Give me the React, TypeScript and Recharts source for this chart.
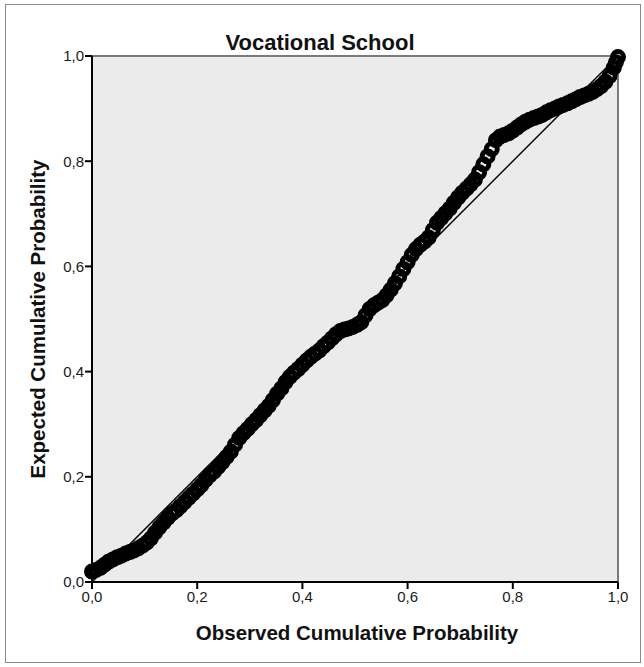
import { ScatterChart, Scatter, XAxis, YAxis, ReferenceArea, ReferenceLine } from "recharts";

const observed = [
  0.0, 0.008, 0.016, 0.024, 0.032, 0.04, 0.048, 0.056, 0.064, 0.072, 0.08, 0.088, 0.096, 0.104, 0.112, 0.12,
  0.128, 0.136, 0.144, 0.152, 0.16, 0.168, 0.176, 0.184, 0.192, 0.2, 0.208, 0.216, 0.224, 0.232, 0.24, 0.248,
  0.256, 0.264, 0.272, 0.28, 0.288, 0.296, 0.304, 0.312, 0.32, 0.328, 0.336, 0.344, 0.352, 0.36, 0.368, 0.376,
  0.384, 0.392, 0.4, 0.408, 0.416, 0.424, 0.432, 0.44, 0.448, 0.456, 0.464, 0.472, 0.48, 0.488, 0.496, 0.504,
  0.512, 0.52, 0.528, 0.536, 0.544, 0.552, 0.56, 0.568, 0.576, 0.584, 0.592, 0.6, 0.608, 0.616, 0.624, 0.632,
  0.64, 0.648, 0.656, 0.664, 0.672, 0.68, 0.688, 0.696, 0.704, 0.712, 0.72, 0.728, 0.736, 0.744, 0.752, 0.76,
  0.768, 0.776, 0.784, 0.792, 0.8, 0.808, 0.816, 0.824, 0.832, 0.84, 0.848, 0.856, 0.864, 0.872, 0.88, 0.888,
  0.896, 0.904, 0.912, 0.92, 0.928, 0.936, 0.944, 0.952, 0.96, 0.968, 0.976, 0.984, 0.992, 0.996, 1.0,
];
const expected = [
  0.02, 0.023, 0.027, 0.033, 0.039, 0.043, 0.047, 0.05, 0.054, 0.057, 0.06, 0.064, 0.069, 0.075, 0.083, 0.094,
  0.104, 0.113, 0.122, 0.13, 0.136, 0.144, 0.152, 0.16, 0.168, 0.176, 0.184, 0.194, 0.203, 0.21, 0.219, 0.228,
  0.238, 0.248, 0.261, 0.274, 0.283, 0.291, 0.3, 0.308, 0.317, 0.326, 0.335, 0.346, 0.358, 0.368, 0.38, 0.39,
  0.398, 0.405, 0.413, 0.421, 0.428, 0.434, 0.44, 0.448, 0.455, 0.463, 0.471, 0.477, 0.48, 0.482, 0.485, 0.489,
  0.494, 0.507, 0.519, 0.526, 0.531, 0.536, 0.545, 0.556, 0.568, 0.581, 0.595, 0.608, 0.622, 0.633, 0.641, 0.647,
  0.655, 0.669, 0.683, 0.692, 0.701, 0.71, 0.721, 0.731, 0.74, 0.748, 0.756, 0.765, 0.779, 0.794, 0.809, 0.823,
  0.84, 0.847, 0.85, 0.853, 0.858, 0.864, 0.87, 0.875, 0.879, 0.882, 0.885, 0.888, 0.893, 0.897, 0.9, 0.904,
  0.907, 0.91, 0.914, 0.918, 0.922, 0.925, 0.928, 0.932, 0.937, 0.943, 0.951, 0.962, 0.978, 0.988, 0.998,
];
const ticks = [0, 0.2, 0.4, 0.6, 0.8, 1];

const points = observed.map((x, i) => ({ x, y: expected[i] }));
const fmt = (v: number) => v.toFixed(1).replace(".", ",");
const font = "Arial, 'Liberation Sans', sans-serif";

const Ring = (p: any) => (
  <circle cx={p.cx} cy={p.cy} r={5.5} fill="none" stroke="#000" strokeWidth={5} />
);

export default function App() {
  return (
    <div style={{ position: "absolute", left: 0, top: 0, width: 644, height: 667, background: "#fff", fontFamily: font }}>
      <div style={{ position: "absolute", left: 5, top: 4, width: 634, height: 657, border: "1.5px solid #8a8a8a" }} />
      <ScatterChart width={644} height={667} margin={{ top: 56, right: 26, bottom: 40, left: 42 }}>
        <XAxis
          type="number"
          dataKey="x"
          domain={[0, 1]}
          ticks={ticks}
          tickFormatter={fmt}
          height={45}
          axisLine={{ stroke: "#000", strokeWidth: 2 }}
          tickLine={{ stroke: "#000", strokeWidth: 2 }}
          tickSize={7}
          tick={{ fontSize: 15, fill: "#1a1a1a", fontFamily: font }}
        />
        <YAxis
          type="number"
          dataKey="y"
          domain={[0, 1]}
          ticks={ticks}
          tickFormatter={fmt}
          width={50}
          axisLine={{ stroke: "#000", strokeWidth: 2 }}
          tickLine={{ stroke: "#000", strokeWidth: 2 }}
          tickSize={7}
          tickMargin={1}
          tick={{ fontSize: 15, fill: "#1a1a1a", fontFamily: font }}
        />
        <ReferenceArea x1={0} x2={1} y1={0} y2={1} fill="#ebebeb" fillOpacity={1} stroke="none" />
        <ReferenceLine y={1} stroke="#7a7a7a" strokeWidth={2} />
        <ReferenceLine x={1} stroke="#7a7a7a" strokeWidth={2} />
        <ReferenceLine segment={[{ x: 0, y: 0 }, { x: 1, y: 1 }]} stroke="#000" strokeWidth={1.5} />
        <Scatter data={points} shape={Ring} isAnimationActive={false} />
      </ScatterChart>
      <div style={{ position: "absolute", left: 0, width: 640, top: 30, textAlign: "center", fontWeight: "bold", fontSize: 22, color: "#111" }}>
        Vocational School
      </div>
      <div style={{ position: "absolute", left: 92, width: 530, top: 621, textAlign: "center", fontWeight: "bold", fontSize: 20.5, color: "#111" }}>
        Observed Cumulative Probability
      </div>
      <div
        style={{
          position: "absolute",
          left: 38 - 180,
          top: 319 - 12,
          width: 360,
          height: 24,
          lineHeight: "24px",
          textAlign: "center",
          fontWeight: "bold",
          fontSize: 20.5,
          color: "#111",
          transform: "rotate(-90deg)",
        }}
      >
        Expected Cumulative Probability
      </div>
    </div>
  );
}
